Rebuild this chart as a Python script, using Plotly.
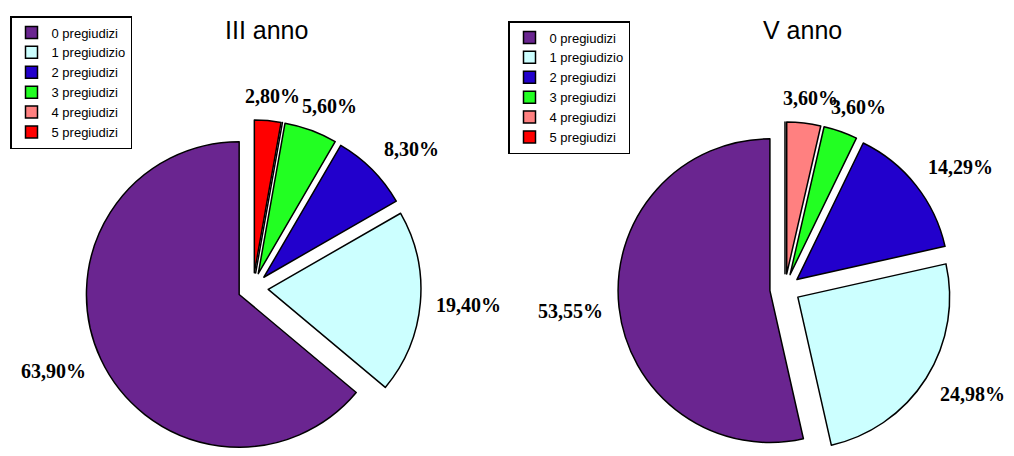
import math
import plotly.graph_objects as go

W, H = 1014, 456

# Categories (legend entries) and the share of each group per school year
categories = ["0 pregiudizi", "1 pregiudizio", "2 pregiudizi",
              "3 pregiudizi", "4 pregiudizi", "5 pregiudizi"]
terzo_anno = [63.90, 19.40, 8.30, 5.60, 0.0, 2.80]
quinto_anno = [53.55, 24.98, 14.29, 3.60, 3.60, 0.0]
titles = ["III anno", "V anno"]

colors = ["#6A2590", "#CCFFFF", "#2200CC", "#22FF22", "#FF8080", "#FF0000"]

PULL = 0.1
LABEL_SIZE = 20
LABEL_GAP = 16
label_font = dict(family="Liberation Serif", size=LABEL_SIZE, color="black", weight="bold")

# pie boxes in pixels: centre x, centre y, half width, half height
pie_boxes = [(253, 288, 240, 168), (785, 289, 220, 167)]


def pct_text(v):
    # Italian decimal comma
    return f"{v:.2f}".replace(".", ",") + "%"


def start_rotation(values):
    # counterclockwise pies in plotly end their first slice at `rotation`;
    # shift so the first slice starts at 12 o'clock and runs counterclockwise
    return 360.0 * (1 - values[0] / sum(values))


def domain(cx, cy, half_w, half_h):
    return dict(x=[(cx - half_w) / W, (cx + half_w) / W],
                y=[1 - (cy + half_h) / H, 1 - (cy - half_h) / H])


def soft_sign(t):
    return math.copysign(min(1.0, abs(t) / 0.7), t)


def slice_labels(values, box):
    """Percent labels set just outside each exploded slice, near its bisector."""
    cx, cy, half_w, half_h = box
    r = min(half_w, half_h) / (1 + PULL)        # plotly's pie radius
    r_out = r * (1 + PULL)
    total = sum(values)
    notes, cum = [], 0.0
    for v in values:
        if v > 0:
            phi = 2 * math.pi * (cum + v / 2) / total   # counterclockwise from 12
            ux, uy = -math.sin(phi), -math.cos(phi)      # screen direction
            txt = pct_text(v)
            n_dig = sum(ch.isdigit() for ch in txt)
            half_w_txt = (0.5 * n_dig + 0.25 + 1.0) * LABEL_SIZE / 2
            half_h_txt = 0.45 * LABEL_SIZE
            dist = r_out + LABEL_GAP
            px = cx + ux * dist + half_w_txt * soft_sign(ux)
            py = cy + uy * dist + half_h_txt * soft_sign(uy)
            notes.append(dict(text=txt, x=px / W, y=1 - py / H,
                              xref="paper", yref="paper", showarrow=False,
                              xanchor="center", yanchor="middle", font=label_font))
        cum += v
    return notes


def pie(values, labels, box, legend_id):
    return go.Pie(
        labels=labels, values=values, textinfo="none",
        hovertext=[pct_text(v) for v in values], hoverinfo="label+text",
        sort=False, direction="counterclockwise", rotation=start_rotation(values),
        pull=[PULL] * len(values),
        marker=dict(colors=colors, line=dict(color="black", width=1.5)),
        domain=domain(*box), legend=legend_id,
    )


fig = go.Figure()
fig.add_trace(pie(terzo_anno, categories, pie_boxes[0], "legend"))
# a zero-width space keeps the second pie's legend entries separate from the first
fig.add_trace(pie(quinto_anno, [c + "\u200b" for c in categories],
                  pie_boxes[1], "legend2"))

legend_common = dict(
    bgcolor="white", bordercolor="black", borderwidth=1.5,
    xanchor="left", yanchor="top", traceorder="normal",
    itemclick=False, itemdoubleclick=False, tracegroupgap=0,
)

title_notes = [
    dict(text=t, x=x / W, y=1 - 30 / H, xref="paper", yref="paper",
         showarrow=False, xanchor="center", yanchor="middle",
         font=dict(family="Liberation Sans", size=25, color="black"))
    for t, x in zip(titles, [266, 802])
]

fig.update_layout(
    width=W, height=H,
    margin=dict(l=0, r=0, t=0, b=0, pad=0, autoexpand=False),
    paper_bgcolor="white", plot_bgcolor="white",
    showlegend=True,
    legend=dict(x=10 / W, y=1 - 16 / H,
                font=dict(family="Liberation Sans", size=13, color="black"),
                **legend_common),
    legend2=dict(x=508 / W, y=1 - 21 / H,
                 font=dict(family="Liberation Sans", size=13, color="black"),
                 **legend_common),
    annotations=title_notes
    + slice_labels(terzo_anno, pie_boxes[0])
    + slice_labels(quinto_anno, pie_boxes[1]),
)

fig.write_html("out.html")
